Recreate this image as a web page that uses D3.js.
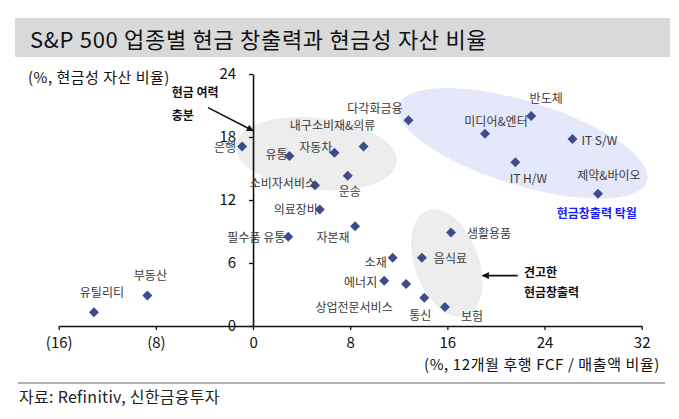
<!DOCTYPE html>
<html><head><meta charset="utf-8">
<script src="https://cdn.jsdelivr.net/npm/d3@7"></script>
<style>
html,body{margin:0;padding:0;background:#fff;}
svg{display:block;font-family:"Noto Sans CJK KR","Noto Sans",sans-serif;}
</style></head>
<body>
<svg id="c" width="679" height="419"></svg>
<script>
// ---- data ----
const categories = ["유틸리티","부동산","은행","유통","자동차","내구소비재&의류","운송","소비자서비스","의료장비","자본재","필수품 유통","다각화금융","반도체","미디어&엔터","IT S/W","IT H/W","제약&바이오","생활용품","음식료","소재","에너지","상업전문서비스","통신","보험"];
const fcfMargin = [-13.1,-8.7,-0.9,3.0,6.7,9.1,7.8,5.1,5.5,8.4,2.9,12.8,22.9,19.1,26.3,21.6,28.4,16.3,13.9,11.5,10.8,12.6,14.1,15.8];
const cashRatio = [1.3,2.9,17.1,16.2,16.5,17.1,14.3,13.4,11.1,9.5,8.5,19.6,20.0,18.3,17.8,15.6,12.6,8.9,6.5,6.5,4.3,4.0,2.7,1.8];
const xTicks = [-16,-8,0,8,16,24,32];
const yTicks = [0,6,12,18,24];
const title = "S&P 500 업종별 현금 창출력과 현금성 자산 비율";
const xTitle = "(%, 12개월 후행 FCF / 매출액 비율)";
const yTitle = "(%, 현금성 자산 비율)";
const source = "자료: Refinitiv, 신한금융투자";

// ---- layout (label offsets in px relative to point) ----
const labelPos = {
 "유틸리티":[8,-21,"middle"],"부동산":[3,-21,"middle"],"은행":[-6,0,"end"],"유통":[-2,-2,"end"],
 "자동차":[-2,-6,"end"],"내구소비재&의류":[-31,-22,"middle"],"운송":[2,15,"middle"],"소비자서비스":[1,-3,"end"],
 "의료장비":[-2,-1,"end"],"자본재":[-22,10,"middle"],"필수품 유통":[-3,0,"end"],"다각화금융":[-6,-13,"end"],
 "반도체":[15,-19,"middle"],"미디어&엔터":[11,-13,"middle"],"IT S/W":[9,0,"start"],"IT H/W":[13,15,"middle"],
 "제약&바이오":[11,-19,"middle"],"생활용품":[16,0,"start"],"음식료":[12,0,"start"],"소재":[-6,4,"end"],
 "에너지":[-7,1,"end"],"상업전문서비스":[-52,22,"middle"],"통신":[-4,17,"middle"],"보험":[27,8,"middle"]
};

const svg = d3.select("#c");
const x = d3.scaleLinear().domain([-16,32]).range([58.7,641.7]);
const y = d3.scaleLinear().domain([0,24]).range([326,74]);

// title bar
svg.append("rect").attr("x",15).attr("y",18).attr("width",655).attr("height",39).attr("fill","#d9d9d9");
svg.append("text").attr("x",30).attr("y",38).attr("dominant-baseline","central")
  .attr("font-size",22).attr("letter-spacing",0.7).attr("fill","#111").text(title);

// ellipses (annotation regions, data-space centres)
const ellipses = [
  {cx:5.2, cy:16.4, rx:81, ry:36, rot:6, fill:"#ededed"},
  {cx:22.2, cy:17.4, rx:130, ry:42, rot:17, fill:"#e4e8fa"},
  {cx:15.95, cy:6.0, rx:32, ry:56, rot:-20, fill:"#ededed"}
];
svg.selectAll("ellipse.reg").data(ellipses).join("ellipse")
  .attr("rx",d=>d.rx).attr("ry",d=>d.ry).attr("fill",d=>d.fill)
  .attr("transform",d=>`translate(${x(d.cx)},${y(d.cy)}) rotate(${d.rot})`);

// axes
const fmt = d => d < 0 ? `(${-d})` : d;
const xa = svg.append("g").attr("transform",`translate(0,${y(0)})`)
  .call(d3.axisBottom(x).tickValues(xTicks).tickFormat(fmt).tickSize(4).tickSizeOuter(0).tickPadding(7));
const ya = svg.append("g").attr("transform",`translate(${x(0)},0)`)
  .call(d3.axisLeft(y).tickValues(yTicks).tickSize(4).tickSizeOuter(0).tickPadding(13));
[xa,ya].forEach(g=>{
  g.select(".domain").attr("stroke","#111").attr("stroke-width",1.6);
  g.selectAll(".tick line").attr("stroke","#111").attr("stroke-width",1.3);
  g.selectAll(".tick text").attr("font-size",15).attr("fill","#111")
    .attr("font-family","\"Noto Sans CJK KR\",sans-serif");
});

// axis titles
svg.append("text").attr("x",28).attr("y",76).attr("dominant-baseline","central")
  .attr("font-size",15).attr("letter-spacing",0.5).attr("fill","#111").text(yTitle);
svg.append("text").attr("x",660).attr("y",363).attr("text-anchor","end").attr("dominant-baseline","central")
  .attr("font-size",15).attr("letter-spacing",0.6).attr("fill","#111").text(xTitle);

// points
const pts = categories.map((c,i)=>({name:c, fx:fcfMargin[i], cy:cashRatio[i]}));
const sym = d3.symbol().type(d3.symbolSquare).size(50);
svg.append("g").selectAll("path").data(pts).join("path")
  .attr("d",sym).attr("fill","#3f4b8c")
  .attr("transform",d=>`translate(${x(d.fx)},${y(d.cy)}) rotate(45)`);

// labels
svg.append("g").selectAll("text").data(pts).join("text")
  .attr("x",d=>x(d.fx)+labelPos[d.name][0])
  .attr("y",d=>y(d.cy)+labelPos[d.name][1])
  .attr("text-anchor",d=>labelPos[d.name][2])
  .attr("dominant-baseline","central")
  .attr("font-size",12).attr("fill","#3a3a3a").text(d=>d.name);

// arrows
const defs = svg.append("defs");
defs.append("marker").attr("id","ah").attr("viewBox","0 0 10 10").attr("refX",9).attr("refY",5)
  .attr("markerWidth",7).attr("markerHeight",7).attr("markerUnits","userSpaceOnUse").attr("orient","auto")
  .append("path").attr("d","M0,0L10,5L0,10Z").attr("fill","#111");
const arrows = [{x1:-3.7,y1:20.8,x2:0,y2:18.6},{x1:21.8,y1:4.8,x2:18.9,y2:4.8}];
svg.selectAll("line.arr").data(arrows).join("line")
  .attr("x1",d=>x(d.x1)).attr("y1",d=>y(d.y1)).attr("x2",d=>x(d.x2)).attr("y2",d=>y(d.y2))
  .attr("stroke","#111").attr("stroke-width",1.6).attr("marker-end","url(#ah)");

// annotation texts
const notes = [
  {t:"현금 여력", px:-6.7, py:22.3, a:"start", c:"#111"},
  {t:"충분", px:-6.7, py:20.1, a:"start", c:"#111"},
  {t:"견고한", px:22.3, py:5.2, a:"start", c:"#111"},
  {t:"현금창출력", px:22.3, py:3.3, a:"start", c:"#111"},
  {t:"현금창출력 탁월", px:28.3, py:10.8, a:"middle", c:"#1a1aff"}
];
svg.selectAll("text.note").data(notes).join("text")
  .attr("x",d=>x(d.px)).attr("y",d=>y(d.py)).attr("text-anchor",d=>d.a)
  .attr("dominant-baseline","central").attr("font-size",12).attr("font-weight","bold")
  .attr("fill",d=>d.c).text(d=>d.t);

// source
svg.append("line").attr("x1",18).attr("x2",665).attr("y1",383).attr("y2",383)
  .attr("stroke","#999").attr("stroke-width",1.5);
svg.append("text").attr("x",19).attr("y",396).attr("dominant-baseline","central")
  .attr("font-size",16).attr("letter-spacing",0.3).attr("fill","#222").text(source);
</script>
</body></html>
